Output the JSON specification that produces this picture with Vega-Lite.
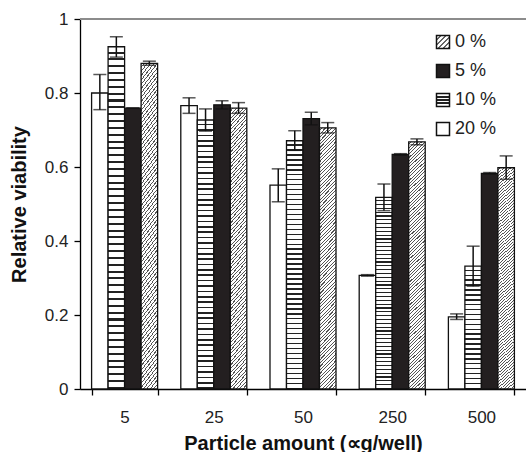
{
"$schema": "https://vega.github.io/schema/vega-lite/v6.json",
"width": 446, "height": 370,
"autosize": {"type": "none"},
"padding": {"left": 80, "top": 19, "right": 0, "bottom": 63},
"background": "#ffffff",
"config": {"view": {"stroke": null}, "font": "Liberation Sans"},
"layer": [
{
"data": {"values": [
{"amount": "5", "conc": "20 %", "v": 0.80, "lo": 0.755, "hi": 0.85},
{"amount": "5", "conc": "10 %", "v": 0.925, "lo": 0.897, "hi": 0.952},
{"amount": "5", "conc": "5 %", "v": 0.759, "lo": 0.759, "hi": 0.759},
{"amount": "5", "conc": "0 %", "v": 0.880, "lo": 0.875, "hi": 0.886},
{"amount": "25", "conc": "20 %", "v": 0.766, "lo": 0.745, "hi": 0.787},
{"amount": "25", "conc": "10 %", "v": 0.727, "lo": 0.697, "hi": 0.757},
{"amount": "25", "conc": "5 %", "v": 0.768, "lo": 0.757, "hi": 0.779},
{"amount": "25", "conc": "0 %", "v": 0.759, "lo": 0.745, "hi": 0.774},
{"amount": "50", "conc": "20 %", "v": 0.551, "lo": 0.506, "hi": 0.595},
{"amount": "50", "conc": "10 %", "v": 0.671, "lo": 0.645, "hi": 0.698},
{"amount": "50", "conc": "5 %", "v": 0.731, "lo": 0.714, "hi": 0.748},
{"amount": "50", "conc": "0 %", "v": 0.706, "lo": 0.692, "hi": 0.720},
{"amount": "250", "conc": "20 %", "v": 0.307, "lo": 0.305, "hi": 0.309},
{"amount": "250", "conc": "10 %", "v": 0.518, "lo": 0.482, "hi": 0.554},
{"amount": "250", "conc": "5 %", "v": 0.634, "lo": 0.632, "hi": 0.636},
{"amount": "250", "conc": "0 %", "v": 0.668, "lo": 0.660, "hi": 0.676},
{"amount": "500", "conc": "20 %", "v": 0.195, "lo": 0.188, "hi": 0.203},
{"amount": "500", "conc": "10 %", "v": 0.332, "lo": 0.278, "hi": 0.386},
{"amount": "500", "conc": "5 %", "v": 0.583, "lo": 0.581, "hi": 0.585},
{"amount": "500", "conc": "0 %", "v": 0.598, "lo": 0.567, "hi": 0.630}
]},
"encoding": {
"x": {"field": "amount", "type": "nominal", "sort": null, "title": "Particle amount (∝g/well)",
 "scale": {"paddingInner": 0.26, "paddingOuter": 0.13},
 "axis": {"tickBand": "extent", "labelAngle": 0, "labelFontSize": 17, "labelColor": "#222", "labelPadding": 14, "tickSize": 6, "tickColor": "#000", "tickWidth": 1.3, "domainColor": "#000", "domainWidth": 1.3, "titleFontSize": 20, "titleFontWeight": "bold", "titleColor": "#111", "titlePadding": 8, "grid": false}},
"xOffset": {"field": "conc", "type": "nominal", "sort": ["20 %", "10 %", "5 %", "0 %"], "scale": {"paddingInner": 0, "paddingOuter": 0}}
},
"layer": [
{"mark": {"type": "bar", "strokeWidth": 1.3},
 "encoding": {
  "y": {"field": "v", "type": "quantitative", "title": "Relative viability",
   "scale": {"domain": [0, 1], "nice": false},
   "axis": {"values": [0, 0.2, 0.4, 0.6, 0.8, 1], "format": "~g", "labelFontSize": 17, "labelColor": "#222", "labelPadding": 6, "tickSize": 6, "tickColor": "#000", "tickWidth": 1.3, "domainColor": "#000", "domainWidth": 1.3, "titleFontSize": 20, "titleFontWeight": "bold", "titleColor": "#111", "titlePadding": 15, "grid": false}},
  "stroke": {"field": "conc", "type": "nominal",
   "scale": {"domain": ["0 %", "5 %", "10 %", "20 %"], "range": ["#111111", "#111111", "#111111", "#111111"]},
   "legend": {"title": null, "orient": "none", "legendX": 354, "legendY": 14, "padding": 0, "symbolType": "square", "symbolSize": 169, "symbolStrokeWidth": 1.5, "labelFontSize": 18, "labelColor": "#222", "labelOffset": 3, "rowPadding": 9}},
  "fill": {"field": "conc", "type": "nominal",
   "scale": {"domain": ["0 %", "5 %", "10 %", "20 %"], "range": [
    {"expr": "{gradient: 'linear', x1: 0, y1: 0, x2: 1, y2: 1, stops: [{offset: 0, color: '#fff'}, {offset: 0.12, color: '#fff'}, {offset: 0.12, color: '#666'}, {offset: 0.2, color: '#666'}, {offset: 0.2, color: '#fff'}, {offset: 0.32, color: '#fff'}, {offset: 0.32, color: '#666'}, {offset: 0.4, color: '#666'}, {offset: 0.4, color: '#fff'}, {offset: 0.52, color: '#fff'}, {offset: 0.52, color: '#666'}, {offset: 0.6, color: '#666'}, {offset: 0.6, color: '#fff'}, {offset: 0.72, color: '#fff'}, {offset: 0.72, color: '#666'}, {offset: 0.8, color: '#666'}, {offset: 0.8, color: '#fff'}, {offset: 0.92, color: '#fff'}, {offset: 0.92, color: '#666'}, {offset: 1, color: '#666'}]}"},
    "#231f20",
    {"expr": "{gradient: 'linear', x1: 0, y1: 0, x2: 0, y2: 1, stops: [{offset: 0, color: '#fff'}, {offset: 0.22, color: '#fff'}, {offset: 0.22, color: '#222'}, {offset: 0.32, color: '#222'}, {offset: 0.32, color: '#fff'}, {offset: 0.45, color: '#fff'}, {offset: 0.45, color: '#222'}, {offset: 0.55, color: '#222'}, {offset: 0.55, color: '#fff'}, {offset: 0.68, color: '#fff'}, {offset: 0.68, color: '#222'}, {offset: 0.78, color: '#222'}, {offset: 0.78, color: '#fff'}, {offset: 1, color: '#fff'}]}"},
    "#ffffff"]},
   "legend": {"title": null, "orient": "none", "legendX": 354, "legendY": 14, "padding": 0, "symbolType": "square", "symbolSize": 169, "symbolStrokeWidth": 1.5, "labelFontSize": 18, "labelColor": "#222", "labelOffset": 3, "rowPadding": 9},
   "condition": [
    {"test": "datum.conc === '10 %' && datum.amount === '500'", "value": {"gradient": "linear", "x1": 0, "y1": 0, "x2": 0, "y2": 1, "stops": [
{"offset":0,"color":"#fff"},{"offset":0.028,"color":"#fff"},{"offset":0.028,"color":"#222"},{"offset":0.04,"color":"#222"},
{"offset":0.04,"color":"#fff"},{"offset":0.068,"color":"#fff"},{"offset":0.068,"color":"#222"},{"offset":0.08,"color":"#222"},
{"offset":0.08,"color":"#fff"},{"offset":0.108,"color":"#fff"},{"offset":0.108,"color":"#222"},{"offset":0.12,"color":"#222"},
{"offset":0.12,"color":"#fff"},{"offset":0.148,"color":"#fff"},{"offset":0.148,"color":"#222"},{"offset":0.16,"color":"#222"},
{"offset":0.16,"color":"#fff"},{"offset":0.188,"color":"#fff"},{"offset":0.188,"color":"#222"},{"offset":0.2,"color":"#222"},
{"offset":0.2,"color":"#fff"},{"offset":0.228,"color":"#fff"},{"offset":0.228,"color":"#222"},{"offset":0.24,"color":"#222"},
{"offset":0.24,"color":"#fff"},{"offset":0.268,"color":"#fff"},{"offset":0.268,"color":"#222"},{"offset":0.28,"color":"#222"},
{"offset":0.28,"color":"#fff"},{"offset":0.308,"color":"#fff"},{"offset":0.308,"color":"#222"},{"offset":0.32,"color":"#222"},
{"offset":0.32,"color":"#fff"},{"offset":0.348,"color":"#fff"},{"offset":0.348,"color":"#222"},{"offset":0.36,"color":"#222"},
{"offset":0.36,"color":"#fff"},{"offset":0.388,"color":"#fff"},{"offset":0.388,"color":"#222"},{"offset":0.4,"color":"#222"},
{"offset":0.4,"color":"#fff"},{"offset":0.428,"color":"#fff"},{"offset":0.428,"color":"#222"},{"offset":0.44,"color":"#222"},
{"offset":0.44,"color":"#fff"},{"offset":0.468,"color":"#fff"},{"offset":0.468,"color":"#222"},{"offset":0.48,"color":"#222"},
{"offset":0.48,"color":"#fff"},{"offset":0.508,"color":"#fff"},{"offset":0.508,"color":"#222"},{"offset":0.52,"color":"#222"},
{"offset":0.52,"color":"#fff"},{"offset":0.548,"color":"#fff"},{"offset":0.548,"color":"#222"},{"offset":0.56,"color":"#222"},
{"offset":0.56,"color":"#fff"},{"offset":0.588,"color":"#fff"},{"offset":0.588,"color":"#222"},{"offset":0.6,"color":"#222"},
{"offset":0.6,"color":"#fff"},{"offset":0.628,"color":"#fff"},{"offset":0.628,"color":"#222"},{"offset":0.64,"color":"#222"},
{"offset":0.64,"color":"#fff"},{"offset":0.668,"color":"#fff"},{"offset":0.668,"color":"#222"},{"offset":0.68,"color":"#222"},
{"offset":0.68,"color":"#fff"},{"offset":0.708,"color":"#fff"},{"offset":0.708,"color":"#222"},{"offset":0.72,"color":"#222"},
{"offset":0.72,"color":"#fff"},{"offset":0.748,"color":"#fff"},{"offset":0.748,"color":"#222"},{"offset":0.76,"color":"#222"},
{"offset":0.76,"color":"#fff"},{"offset":0.788,"color":"#fff"},{"offset":0.788,"color":"#222"},{"offset":0.8,"color":"#222"},
{"offset":0.8,"color":"#fff"},{"offset":0.828,"color":"#fff"},{"offset":0.828,"color":"#222"},{"offset":0.84,"color":"#222"},
{"offset":0.84,"color":"#fff"},{"offset":0.868,"color":"#fff"},{"offset":0.868,"color":"#222"},{"offset":0.88,"color":"#222"},
{"offset":0.88,"color":"#fff"},{"offset":0.908,"color":"#fff"},{"offset":0.908,"color":"#222"},{"offset":0.92,"color":"#222"},
{"offset":0.92,"color":"#fff"},{"offset":0.948,"color":"#fff"},{"offset":0.948,"color":"#222"},{"offset":0.96,"color":"#222"},
{"offset":0.96,"color":"#fff"},{"offset":0.988,"color":"#fff"},{"offset":0.988,"color":"#222"},{"offset":1,"color":"#222"}]}},
    {"test": "datum.conc === '10 %'", "value": {"gradient": "linear", "x1": 0, "y1": 0, "x2": 0, "y2": 1, "stops": [
{"offset":0,"color":"#fff"},{"offset":0.014,"color":"#fff"},{"offset":0.014,"color":"#222"},{"offset":0.02,"color":"#222"},
{"offset":0.02,"color":"#fff"},{"offset":0.034,"color":"#fff"},{"offset":0.034,"color":"#222"},{"offset":0.04,"color":"#222"},
{"offset":0.04,"color":"#fff"},{"offset":0.054,"color":"#fff"},{"offset":0.054,"color":"#222"},{"offset":0.06,"color":"#222"},
{"offset":0.06,"color":"#fff"},{"offset":0.074,"color":"#fff"},{"offset":0.074,"color":"#222"},{"offset":0.08,"color":"#222"},
{"offset":0.08,"color":"#fff"},{"offset":0.094,"color":"#fff"},{"offset":0.094,"color":"#222"},{"offset":0.1,"color":"#222"},
{"offset":0.1,"color":"#fff"},{"offset":0.114,"color":"#fff"},{"offset":0.114,"color":"#222"},{"offset":0.12,"color":"#222"},
{"offset":0.12,"color":"#fff"},{"offset":0.134,"color":"#fff"},{"offset":0.134,"color":"#222"},{"offset":0.14,"color":"#222"},
{"offset":0.14,"color":"#fff"},{"offset":0.154,"color":"#fff"},{"offset":0.154,"color":"#222"},{"offset":0.16,"color":"#222"},
{"offset":0.16,"color":"#fff"},{"offset":0.174,"color":"#fff"},{"offset":0.174,"color":"#222"},{"offset":0.18,"color":"#222"},
{"offset":0.18,"color":"#fff"},{"offset":0.194,"color":"#fff"},{"offset":0.194,"color":"#222"},{"offset":0.2,"color":"#222"},
{"offset":0.2,"color":"#fff"},{"offset":0.214,"color":"#fff"},{"offset":0.214,"color":"#222"},{"offset":0.22,"color":"#222"},
{"offset":0.22,"color":"#fff"},{"offset":0.234,"color":"#fff"},{"offset":0.234,"color":"#222"},{"offset":0.24,"color":"#222"},
{"offset":0.24,"color":"#fff"},{"offset":0.254,"color":"#fff"},{"offset":0.254,"color":"#222"},{"offset":0.26,"color":"#222"},
{"offset":0.26,"color":"#fff"},{"offset":0.274,"color":"#fff"},{"offset":0.274,"color":"#222"},{"offset":0.28,"color":"#222"},
{"offset":0.28,"color":"#fff"},{"offset":0.294,"color":"#fff"},{"offset":0.294,"color":"#222"},{"offset":0.3,"color":"#222"},
{"offset":0.3,"color":"#fff"},{"offset":0.314,"color":"#fff"},{"offset":0.314,"color":"#222"},{"offset":0.32,"color":"#222"},
{"offset":0.32,"color":"#fff"},{"offset":0.334,"color":"#fff"},{"offset":0.334,"color":"#222"},{"offset":0.34,"color":"#222"},
{"offset":0.34,"color":"#fff"},{"offset":0.354,"color":"#fff"},{"offset":0.354,"color":"#222"},{"offset":0.36,"color":"#222"},
{"offset":0.36,"color":"#fff"},{"offset":0.374,"color":"#fff"},{"offset":0.374,"color":"#222"},{"offset":0.38,"color":"#222"},
{"offset":0.38,"color":"#fff"},{"offset":0.394,"color":"#fff"},{"offset":0.394,"color":"#222"},{"offset":0.4,"color":"#222"},
{"offset":0.4,"color":"#fff"},{"offset":0.414,"color":"#fff"},{"offset":0.414,"color":"#222"},{"offset":0.42,"color":"#222"},
{"offset":0.42,"color":"#fff"},{"offset":0.434,"color":"#fff"},{"offset":0.434,"color":"#222"},{"offset":0.44,"color":"#222"},
{"offset":0.44,"color":"#fff"},{"offset":0.454,"color":"#fff"},{"offset":0.454,"color":"#222"},{"offset":0.46,"color":"#222"},
{"offset":0.46,"color":"#fff"},{"offset":0.474,"color":"#fff"},{"offset":0.474,"color":"#222"},{"offset":0.48,"color":"#222"},
{"offset":0.48,"color":"#fff"},{"offset":0.494,"color":"#fff"},{"offset":0.494,"color":"#222"},{"offset":0.5,"color":"#222"},
{"offset":0.5,"color":"#fff"},{"offset":0.514,"color":"#fff"},{"offset":0.514,"color":"#222"},{"offset":0.52,"color":"#222"},
{"offset":0.52,"color":"#fff"},{"offset":0.534,"color":"#fff"},{"offset":0.534,"color":"#222"},{"offset":0.54,"color":"#222"},
{"offset":0.54,"color":"#fff"},{"offset":0.554,"color":"#fff"},{"offset":0.554,"color":"#222"},{"offset":0.56,"color":"#222"},
{"offset":0.56,"color":"#fff"},{"offset":0.574,"color":"#fff"},{"offset":0.574,"color":"#222"},{"offset":0.58,"color":"#222"},
{"offset":0.58,"color":"#fff"},{"offset":0.594,"color":"#fff"},{"offset":0.594,"color":"#222"},{"offset":0.6,"color":"#222"},
{"offset":0.6,"color":"#fff"},{"offset":0.614,"color":"#fff"},{"offset":0.614,"color":"#222"},{"offset":0.62,"color":"#222"},
{"offset":0.62,"color":"#fff"},{"offset":0.634,"color":"#fff"},{"offset":0.634,"color":"#222"},{"offset":0.64,"color":"#222"},
{"offset":0.64,"color":"#fff"},{"offset":0.654,"color":"#fff"},{"offset":0.654,"color":"#222"},{"offset":0.66,"color":"#222"},
{"offset":0.66,"color":"#fff"},{"offset":0.674,"color":"#fff"},{"offset":0.674,"color":"#222"},{"offset":0.68,"color":"#222"},
{"offset":0.68,"color":"#fff"},{"offset":0.694,"color":"#fff"},{"offset":0.694,"color":"#222"},{"offset":0.7,"color":"#222"},
{"offset":0.7,"color":"#fff"},{"offset":0.714,"color":"#fff"},{"offset":0.714,"color":"#222"},{"offset":0.72,"color":"#222"},
{"offset":0.72,"color":"#fff"},{"offset":0.734,"color":"#fff"},{"offset":0.734,"color":"#222"},{"offset":0.74,"color":"#222"},
{"offset":0.74,"color":"#fff"},{"offset":0.754,"color":"#fff"},{"offset":0.754,"color":"#222"},{"offset":0.76,"color":"#222"},
{"offset":0.76,"color":"#fff"},{"offset":0.774,"color":"#fff"},{"offset":0.774,"color":"#222"},{"offset":0.78,"color":"#222"},
{"offset":0.78,"color":"#fff"},{"offset":0.794,"color":"#fff"},{"offset":0.794,"color":"#222"},{"offset":0.8,"color":"#222"},
{"offset":0.8,"color":"#fff"},{"offset":0.814,"color":"#fff"},{"offset":0.814,"color":"#222"},{"offset":0.82,"color":"#222"},
{"offset":0.82,"color":"#fff"},{"offset":0.834,"color":"#fff"},{"offset":0.834,"color":"#222"},{"offset":0.84,"color":"#222"},
{"offset":0.84,"color":"#fff"},{"offset":0.854,"color":"#fff"},{"offset":0.854,"color":"#222"},{"offset":0.86,"color":"#222"},
{"offset":0.86,"color":"#fff"},{"offset":0.874,"color":"#fff"},{"offset":0.874,"color":"#222"},{"offset":0.88,"color":"#222"},
{"offset":0.88,"color":"#fff"},{"offset":0.894,"color":"#fff"},{"offset":0.894,"color":"#222"},{"offset":0.9,"color":"#222"},
{"offset":0.9,"color":"#fff"},{"offset":0.914,"color":"#fff"},{"offset":0.914,"color":"#222"},{"offset":0.92,"color":"#222"},
{"offset":0.92,"color":"#fff"},{"offset":0.934,"color":"#fff"},{"offset":0.934,"color":"#222"},{"offset":0.94,"color":"#222"},
{"offset":0.94,"color":"#fff"},{"offset":0.954,"color":"#fff"},{"offset":0.954,"color":"#222"},{"offset":0.96,"color":"#222"},
{"offset":0.96,"color":"#fff"},{"offset":0.974,"color":"#fff"},{"offset":0.974,"color":"#222"},{"offset":0.98,"color":"#222"},
{"offset":0.98,"color":"#fff"},{"offset":0.994,"color":"#fff"},{"offset":0.994,"color":"#222"},{"offset":1,"color":"#222"}]}},
    {"test": "datum.conc === '0 %'", "value": {"gradient": "linear", "x1": 0, "y1": 0, "x2": 0.069, "y2": 1.06, "stops": [
{"offset":0,"color":"#fff"},{"offset":0.0085,"color":"#fff"},{"offset":0.0085,"color":"#555"},{"offset":0.0125,"color":"#555"},
{"offset":0.0125,"color":"#fff"},{"offset":0.021,"color":"#fff"},{"offset":0.021,"color":"#555"},{"offset":0.025,"color":"#555"},
{"offset":0.025,"color":"#fff"},{"offset":0.0335,"color":"#fff"},{"offset":0.0335,"color":"#555"},{"offset":0.0375,"color":"#555"},
{"offset":0.0375,"color":"#fff"},{"offset":0.046,"color":"#fff"},{"offset":0.046,"color":"#555"},{"offset":0.05,"color":"#555"},
{"offset":0.05,"color":"#fff"},{"offset":0.0585,"color":"#fff"},{"offset":0.0585,"color":"#555"},{"offset":0.0625,"color":"#555"},
{"offset":0.0625,"color":"#fff"},{"offset":0.071,"color":"#fff"},{"offset":0.071,"color":"#555"},{"offset":0.075,"color":"#555"},
{"offset":0.075,"color":"#fff"},{"offset":0.0835,"color":"#fff"},{"offset":0.0835,"color":"#555"},{"offset":0.0875,"color":"#555"},
{"offset":0.0875,"color":"#fff"},{"offset":0.096,"color":"#fff"},{"offset":0.096,"color":"#555"},{"offset":0.1,"color":"#555"},
{"offset":0.1,"color":"#fff"},{"offset":0.1085,"color":"#fff"},{"offset":0.1085,"color":"#555"},{"offset":0.1125,"color":"#555"},
{"offset":0.1125,"color":"#fff"},{"offset":0.121,"color":"#fff"},{"offset":0.121,"color":"#555"},{"offset":0.125,"color":"#555"},
{"offset":0.125,"color":"#fff"},{"offset":0.1335,"color":"#fff"},{"offset":0.1335,"color":"#555"},{"offset":0.1375,"color":"#555"},
{"offset":0.1375,"color":"#fff"},{"offset":0.146,"color":"#fff"},{"offset":0.146,"color":"#555"},{"offset":0.15,"color":"#555"},
{"offset":0.15,"color":"#fff"},{"offset":0.1585,"color":"#fff"},{"offset":0.1585,"color":"#555"},{"offset":0.1625,"color":"#555"},
{"offset":0.1625,"color":"#fff"},{"offset":0.171,"color":"#fff"},{"offset":0.171,"color":"#555"},{"offset":0.175,"color":"#555"},
{"offset":0.175,"color":"#fff"},{"offset":0.1835,"color":"#fff"},{"offset":0.1835,"color":"#555"},{"offset":0.1875,"color":"#555"},
{"offset":0.1875,"color":"#fff"},{"offset":0.196,"color":"#fff"},{"offset":0.196,"color":"#555"},{"offset":0.2,"color":"#555"},
{"offset":0.2,"color":"#fff"},{"offset":0.2085,"color":"#fff"},{"offset":0.2085,"color":"#555"},{"offset":0.2125,"color":"#555"},
{"offset":0.2125,"color":"#fff"},{"offset":0.221,"color":"#fff"},{"offset":0.221,"color":"#555"},{"offset":0.225,"color":"#555"},
{"offset":0.225,"color":"#fff"},{"offset":0.2335,"color":"#fff"},{"offset":0.2335,"color":"#555"},{"offset":0.2375,"color":"#555"},
{"offset":0.2375,"color":"#fff"},{"offset":0.246,"color":"#fff"},{"offset":0.246,"color":"#555"},{"offset":0.25,"color":"#555"},
{"offset":0.25,"color":"#fff"},{"offset":0.2585,"color":"#fff"},{"offset":0.2585,"color":"#555"},{"offset":0.2625,"color":"#555"},
{"offset":0.2625,"color":"#fff"},{"offset":0.271,"color":"#fff"},{"offset":0.271,"color":"#555"},{"offset":0.275,"color":"#555"},
{"offset":0.275,"color":"#fff"},{"offset":0.2835,"color":"#fff"},{"offset":0.2835,"color":"#555"},{"offset":0.2875,"color":"#555"},
{"offset":0.2875,"color":"#fff"},{"offset":0.296,"color":"#fff"},{"offset":0.296,"color":"#555"},{"offset":0.3,"color":"#555"},
{"offset":0.3,"color":"#fff"},{"offset":0.3085,"color":"#fff"},{"offset":0.3085,"color":"#555"},{"offset":0.3125,"color":"#555"},
{"offset":0.3125,"color":"#fff"},{"offset":0.321,"color":"#fff"},{"offset":0.321,"color":"#555"},{"offset":0.325,"color":"#555"},
{"offset":0.325,"color":"#fff"},{"offset":0.3335,"color":"#fff"},{"offset":0.3335,"color":"#555"},{"offset":0.3375,"color":"#555"},
{"offset":0.3375,"color":"#fff"},{"offset":0.346,"color":"#fff"},{"offset":0.346,"color":"#555"},{"offset":0.35,"color":"#555"},
{"offset":0.35,"color":"#fff"},{"offset":0.3585,"color":"#fff"},{"offset":0.3585,"color":"#555"},{"offset":0.3625,"color":"#555"},
{"offset":0.3625,"color":"#fff"},{"offset":0.371,"color":"#fff"},{"offset":0.371,"color":"#555"},{"offset":0.375,"color":"#555"},
{"offset":0.375,"color":"#fff"},{"offset":0.3835,"color":"#fff"},{"offset":0.3835,"color":"#555"},{"offset":0.3875,"color":"#555"},
{"offset":0.3875,"color":"#fff"},{"offset":0.396,"color":"#fff"},{"offset":0.396,"color":"#555"},{"offset":0.4,"color":"#555"},
{"offset":0.4,"color":"#fff"},{"offset":0.4085,"color":"#fff"},{"offset":0.4085,"color":"#555"},{"offset":0.4125,"color":"#555"},
{"offset":0.4125,"color":"#fff"},{"offset":0.421,"color":"#fff"},{"offset":0.421,"color":"#555"},{"offset":0.425,"color":"#555"},
{"offset":0.425,"color":"#fff"},{"offset":0.4335,"color":"#fff"},{"offset":0.4335,"color":"#555"},{"offset":0.4375,"color":"#555"},
{"offset":0.4375,"color":"#fff"},{"offset":0.446,"color":"#fff"},{"offset":0.446,"color":"#555"},{"offset":0.45,"color":"#555"},
{"offset":0.45,"color":"#fff"},{"offset":0.4585,"color":"#fff"},{"offset":0.4585,"color":"#555"},{"offset":0.4625,"color":"#555"},
{"offset":0.4625,"color":"#fff"},{"offset":0.471,"color":"#fff"},{"offset":0.471,"color":"#555"},{"offset":0.475,"color":"#555"},
{"offset":0.475,"color":"#fff"},{"offset":0.4835,"color":"#fff"},{"offset":0.4835,"color":"#555"},{"offset":0.4875,"color":"#555"},
{"offset":0.4875,"color":"#fff"},{"offset":0.496,"color":"#fff"},{"offset":0.496,"color":"#555"},{"offset":0.5,"color":"#555"},
{"offset":0.5,"color":"#fff"},{"offset":0.5085,"color":"#fff"},{"offset":0.5085,"color":"#555"},{"offset":0.5125,"color":"#555"},
{"offset":0.5125,"color":"#fff"},{"offset":0.521,"color":"#fff"},{"offset":0.521,"color":"#555"},{"offset":0.525,"color":"#555"},
{"offset":0.525,"color":"#fff"},{"offset":0.5335,"color":"#fff"},{"offset":0.5335,"color":"#555"},{"offset":0.5375,"color":"#555"},
{"offset":0.5375,"color":"#fff"},{"offset":0.546,"color":"#fff"},{"offset":0.546,"color":"#555"},{"offset":0.55,"color":"#555"},
{"offset":0.55,"color":"#fff"},{"offset":0.5585,"color":"#fff"},{"offset":0.5585,"color":"#555"},{"offset":0.5625,"color":"#555"},
{"offset":0.5625,"color":"#fff"},{"offset":0.571,"color":"#fff"},{"offset":0.571,"color":"#555"},{"offset":0.575,"color":"#555"},
{"offset":0.575,"color":"#fff"},{"offset":0.5835,"color":"#fff"},{"offset":0.5835,"color":"#555"},{"offset":0.5875,"color":"#555"},
{"offset":0.5875,"color":"#fff"},{"offset":0.596,"color":"#fff"},{"offset":0.596,"color":"#555"},{"offset":0.6,"color":"#555"},
{"offset":0.6,"color":"#fff"},{"offset":0.6085,"color":"#fff"},{"offset":0.6085,"color":"#555"},{"offset":0.6125,"color":"#555"},
{"offset":0.6125,"color":"#fff"},{"offset":0.621,"color":"#fff"},{"offset":0.621,"color":"#555"},{"offset":0.625,"color":"#555"},
{"offset":0.625,"color":"#fff"},{"offset":0.6335,"color":"#fff"},{"offset":0.6335,"color":"#555"},{"offset":0.6375,"color":"#555"},
{"offset":0.6375,"color":"#fff"},{"offset":0.646,"color":"#fff"},{"offset":0.646,"color":"#555"},{"offset":0.65,"color":"#555"},
{"offset":0.65,"color":"#fff"},{"offset":0.6585,"color":"#fff"},{"offset":0.6585,"color":"#555"},{"offset":0.6625,"color":"#555"},
{"offset":0.6625,"color":"#fff"},{"offset":0.671,"color":"#fff"},{"offset":0.671,"color":"#555"},{"offset":0.675,"color":"#555"},
{"offset":0.675,"color":"#fff"},{"offset":0.6835,"color":"#fff"},{"offset":0.6835,"color":"#555"},{"offset":0.6875,"color":"#555"},
{"offset":0.6875,"color":"#fff"},{"offset":0.696,"color":"#fff"},{"offset":0.696,"color":"#555"},{"offset":0.7,"color":"#555"},
{"offset":0.7,"color":"#fff"},{"offset":0.7085,"color":"#fff"},{"offset":0.7085,"color":"#555"},{"offset":0.7125,"color":"#555"},
{"offset":0.7125,"color":"#fff"},{"offset":0.721,"color":"#fff"},{"offset":0.721,"color":"#555"},{"offset":0.725,"color":"#555"},
{"offset":0.725,"color":"#fff"},{"offset":0.7335,"color":"#fff"},{"offset":0.7335,"color":"#555"},{"offset":0.7375,"color":"#555"},
{"offset":0.7375,"color":"#fff"},{"offset":0.746,"color":"#fff"},{"offset":0.746,"color":"#555"},{"offset":0.75,"color":"#555"},
{"offset":0.75,"color":"#fff"},{"offset":0.7585,"color":"#fff"},{"offset":0.7585,"color":"#555"},{"offset":0.7625,"color":"#555"},
{"offset":0.7625,"color":"#fff"},{"offset":0.771,"color":"#fff"},{"offset":0.771,"color":"#555"},{"offset":0.775,"color":"#555"},
{"offset":0.775,"color":"#fff"},{"offset":0.7835,"color":"#fff"},{"offset":0.7835,"color":"#555"},{"offset":0.7875,"color":"#555"},
{"offset":0.7875,"color":"#fff"},{"offset":0.796,"color":"#fff"},{"offset":0.796,"color":"#555"},{"offset":0.8,"color":"#555"},
{"offset":0.8,"color":"#fff"},{"offset":0.8085,"color":"#fff"},{"offset":0.8085,"color":"#555"},{"offset":0.8125,"color":"#555"},
{"offset":0.8125,"color":"#fff"},{"offset":0.821,"color":"#fff"},{"offset":0.821,"color":"#555"},{"offset":0.825,"color":"#555"},
{"offset":0.825,"color":"#fff"},{"offset":0.8335,"color":"#fff"},{"offset":0.8335,"color":"#555"},{"offset":0.8375,"color":"#555"},
{"offset":0.8375,"color":"#fff"},{"offset":0.846,"color":"#fff"},{"offset":0.846,"color":"#555"},{"offset":0.85,"color":"#555"},
{"offset":0.85,"color":"#fff"},{"offset":0.8585,"color":"#fff"},{"offset":0.8585,"color":"#555"},{"offset":0.8625,"color":"#555"},
{"offset":0.8625,"color":"#fff"},{"offset":0.871,"color":"#fff"},{"offset":0.871,"color":"#555"},{"offset":0.875,"color":"#555"},
{"offset":0.875,"color":"#fff"},{"offset":0.8835,"color":"#fff"},{"offset":0.8835,"color":"#555"},{"offset":0.8875,"color":"#555"},
{"offset":0.8875,"color":"#fff"},{"offset":0.896,"color":"#fff"},{"offset":0.896,"color":"#555"},{"offset":0.9,"color":"#555"},
{"offset":0.9,"color":"#fff"},{"offset":0.9085,"color":"#fff"},{"offset":0.9085,"color":"#555"},{"offset":0.9125,"color":"#555"},
{"offset":0.9125,"color":"#fff"},{"offset":0.921,"color":"#fff"},{"offset":0.921,"color":"#555"},{"offset":0.925,"color":"#555"},
{"offset":0.925,"color":"#fff"},{"offset":0.9335,"color":"#fff"},{"offset":0.9335,"color":"#555"},{"offset":0.9375,"color":"#555"},
{"offset":0.9375,"color":"#fff"},{"offset":0.946,"color":"#fff"},{"offset":0.946,"color":"#555"},{"offset":0.95,"color":"#555"},
{"offset":0.95,"color":"#fff"},{"offset":0.9585,"color":"#fff"},{"offset":0.9585,"color":"#555"},{"offset":0.9625,"color":"#555"},
{"offset":0.9625,"color":"#fff"},{"offset":0.971,"color":"#fff"},{"offset":0.971,"color":"#555"},{"offset":0.975,"color":"#555"},
{"offset":0.975,"color":"#fff"},{"offset":0.9835,"color":"#fff"},{"offset":0.9835,"color":"#555"},{"offset":0.9875,"color":"#555"},
{"offset":0.9875,"color":"#fff"},{"offset":1,"color":"#fff"}]}}
   ]}
 }},
{"mark": {"type": "rule", "color": "#111", "strokeWidth": 1.5},
 "encoding": {"y": {"field": "lo", "type": "quantitative", "title": "Relative viability"}, "y2": {"field": "hi"}}},
{"mark": {"type": "tick", "color": "#111", "thickness": 1.5, "size": 13},
 "encoding": {"y": {"field": "hi", "type": "quantitative", "title": "Relative viability"}}},
{"mark": {"type": "tick", "color": "#111", "thickness": 1.5, "size": 13},
 "encoding": {"y": {"field": "lo", "type": "quantitative", "title": "Relative viability"}}}
]
},
{"data": {"values": [{"top": 1}]},
 "mark": {"type": "rule", "color": "#8c8c8c", "strokeWidth": 2},
 "encoding": {"y": {"field": "top", "type": "quantitative", "title": "Relative viability"}}}
]
}
